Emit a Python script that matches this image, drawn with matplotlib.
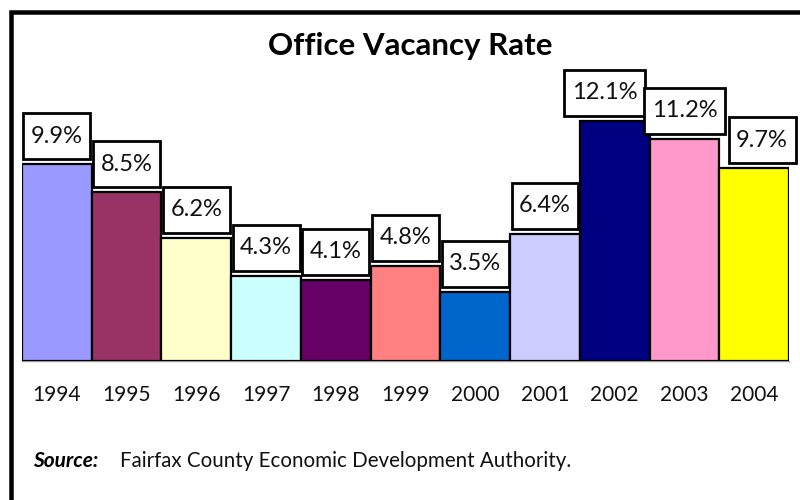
import matplotlib
matplotlib.use("Agg")
import matplotlib.pyplot as plt
from matplotlib.path import Path
from matplotlib.patches import Rectangle

plt.rcParams["font.family"] = ["Lato", "DejaVu Sans"]

years = ["1994", "1995", "1996", "1997", "1998", "1999",
         "2000", "2001", "2002", "2003", "2004"]
vacancy = [9.9, 8.5, 6.2, 4.3, 4.1, 4.8, 3.5, 6.4, 12.1, 11.2, 9.7]
bar_colors = ["#9999FF", "#993366", "#FFFFCC", "#CCFFFF", "#660066", "#FF8080",
              "#0066CC", "#CCCCFF", "#000080", "#FF99CC", "#FFFF00"]
title = "Office Vacancy Rate"
source_label = "Source:"
source_text = "Fairfax County Economic Development Authority."

# horizontal nudges (pixels) for a few value boxes
label_nudge = [0, 0, 0, 0, 0, 0, 0, 0, -10, 0, 8]

W, H, DPI = 800, 500, 100
fig = plt.figure(figsize=(W / DPI, H / DPI), dpi=DPI)
fig.patch.set_facecolor("white")

# plot area in pixels
left_px, right_px, bottom_px = 22, 789, 361
px_per_unit = 19.85
ymax = 15.0
top_px = bottom_px - ymax * px_per_unit
ax = fig.add_axes([left_px / W, (H - bottom_px) / H,
                   (right_px - left_px) / W, (bottom_px - top_px) / H])

x = list(range(len(years)))
ax.bar(x, vacancy, width=1.0, color=bar_colors, edgecolor="black",
       linewidth=1.6, zorder=3)
ax.set_xlim(-0.5, len(years) - 0.5)
ax.set_ylim(0, ymax)
ax.set_xticks(x)
ax.set_xticklabels(years, fontsize=15, color="#111111")
ax.tick_params(axis="x", length=0, pad=17)
ax.set_yticks([])
for side in ("left", "right", "top"):
    ax.spines[side].set_visible(False)
ax.spines["bottom"].set_color("#999999")
ax.spines["bottom"].set_linewidth(1.0)
ax.set_facecolor("none")


def label_box(x0, y0, width, height, mutation_size):
    # fixed-height rectangle around the value text
    pad_x = 7.5
    box_h = 46.0
    cy = y0 + height / 2.0
    xa, xb = x0 - pad_x, x0 + width + pad_x
    ya, yb = cy - box_h / 2.0, cy + box_h / 2.0
    return Path([(xa, ya), (xb, ya), (xb, yb), (xa, yb), (xa, ya)],
                closed=True)


for i, v in enumerate(vacancy):
    ax.annotate(f"{v:.1f}%", xy=(i, v),
                xytext=(label_nudge[i] * 72 / DPI, 28 * 72 / DPI),
                textcoords="offset points", ha="center", va="center",
                fontsize=17, color="#111111", zorder=5,
                bbox=dict(boxstyle=label_box, facecolor="white",
                          edgecolor="black", linewidth=2.0))

fig.text(410 / W, 1 - 46 / H, title, ha="center", va="center",
         fontsize=22.5, fontweight="bold", color="black")

fig.text(33 / W, 1 - 467 / H, source_label, ha="left", va="baseline",
         fontsize=15, fontweight="bold", fontstyle="italic", color="black")
fig.text(120 / W, 1 - 467 / H, source_text, ha="left", va="baseline",
         fontsize=14.8, color="#111111")

# outer frame: only top and left edges fall inside the canvas
fig.patches.append(Rectangle((10.5 / W, -0.2), 1.2, 1.2 - 11.5 / H,
                             transform=fig.transFigure, fill=False,
                             edgecolor="black", linewidth=4.5 * 72 / DPI))

fig.savefig("out.png", dpi=DPI)
